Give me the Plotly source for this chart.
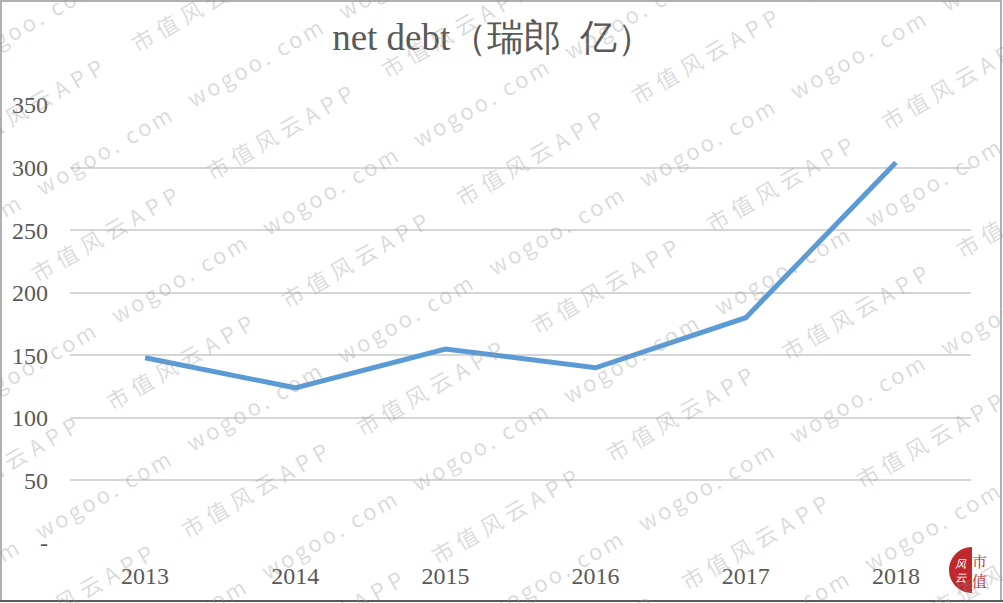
import math
import plotly.graph_objects as go

years = ["2013", "2014", "2015", "2016", "2017", "2018"]
net_debt = [148, 124, 155, 140, 180, 304]
y_tickvals = [0, 50, 100, 150, 200, 250, 300, 350]
y_ticktext = ["-", "50", "100", "150", "200", "250", "300", "350"]

SERIF = "Liberation Serif, Times New Roman, serif"
GREY = "#595959"
W, H = 1003, 603
L, R, T, B = 70, 32, 105, 60
PW, PH = W - L - R, H - T - B


def px(x):
    return (x - L) / PW


def py(y):
    return (H - B - y) / PH


fig = go.Figure()
fig.add_trace(go.Scatter(
    x=years, y=net_debt, mode="lines",
    line=dict(color="#5B9BD5", width=5),
    hoverinfo="x+y",
))

annotations = []
# watermark rows (decoration): alternating rows of "wogoo. com" and "市值风云APP"
wm_font = dict(family="Noto Sans CJK SC, sans-serif", size=22, color="rgba(150,150,150,0.34)")
rows = [
    ("wogoo. com", (192, 107), (151, -88), (63, -46), 3),
    ("市值风云APP", (207, 183), (175, -102), (74, -53), 6),
]
for txt, (sx, sy), (ax, ay), (ox, oy), ls in rows:
    for k in range(-4, 7):
        for i in range(-8, 10):
            cx = sx + i * ax + k * 75 + ox
            cy = sy + i * ay + k * 128 + oy
            if -110 < cx < W + 110 and -70 < cy < H + 70:
                annotations.append(dict(
                    x=px(cx), y=py(cy), xref="paper", yref="paper",
                    xanchor="center", yanchor="middle",
                    text=f'<span style="letter-spacing:{ls}px">{txt}</span>',
                    showarrow=False, textangle=-30, font=wm_font,
                ))

# logo
annotations.append(dict(
    x=px(980), y=py(570), xref="paper", yref="paper", xanchor="center", yanchor="middle",
    text="市<br>值", showarrow=False,
    font=dict(family="Noto Serif CJK SC, Noto Sans CJK SC", size=15, color="#c0282d"),
))
annotations.append(dict(
    x=px(961), y=py(570), xref="paper", yref="paper", xanchor="center", yanchor="middle",
    text="<i>风<br>云</i>", showarrow=False,
    font=dict(family="Noto Sans CJK SC", size=11, color="white"),
))

cxl, cyl, rl = 972, 570, 23
pts = []
for n in range(0, 25):
    ang = math.pi / 2 + math.pi * n / 24
    pts.append((cxl + rl * math.cos(ang), cyl - rl * math.sin(ang)))
half_disc = "M " + " L ".join(f"{px(x):.5f} {py(y):.5f}" for x, y in pts) + " Z"

fig.update_layout(
    width=W, height=H,
    paper_bgcolor="white", plot_bgcolor="white",
    margin=dict(l=L, r=R, t=T, b=B),
    showlegend=False,
    title=dict(
        text="net debt（瑞郎  亿）", x=px(493), xanchor="center", xref="paper",
        y=1 - 37 / H, yanchor="middle",
        font=dict(family=SERIF, size=37, color=GREY),
    ),
    xaxis=dict(
        type="category", range=[-0.5, 5.5], showgrid=False, zeroline=False, showline=False,
        ticks="", tickfont=dict(family=SERIF, size=24, color=GREY),
        ticklabelstandoff=16,
    ),
    yaxis=dict(
        range=[0, 350], tickvals=y_tickvals, ticktext=y_ticktext,
        showgrid=True, gridcolor="#d6d6d6", gridwidth=1.5, zeroline=False,
        showline=False, ticks="", tickfont=dict(family=SERIF, size=24, color=GREY),
        ticklabelstandoff=21,
    ),
    annotations=annotations,
    shapes=[
        dict(type="rect", xref="paper", yref="paper",
             x0=px(1), x1=px(1001), y0=py(601), y1=py(1),
             line=dict(color="#b0b0b0", width=2), fillcolor="rgba(0,0,0,0)", layer="above"),
        dict(type="line", xref="paper", yref="paper",
             x0=px(0), x1=px(1003), y0=py(601), y1=py(601),
             line=dict(color="#5a5a5a", width=2), layer="above"),
        dict(type="path", xref="paper", yref="paper", path=half_disc,
             fillcolor="#c0282d", line=dict(width=0), layer="above"),
    ],
)

fig.write_html(
    "out.html",
    config={"displayModeBar": False},
    post_script="document.body.style.margin='0';document.body.style.overflow='hidden';",
)
